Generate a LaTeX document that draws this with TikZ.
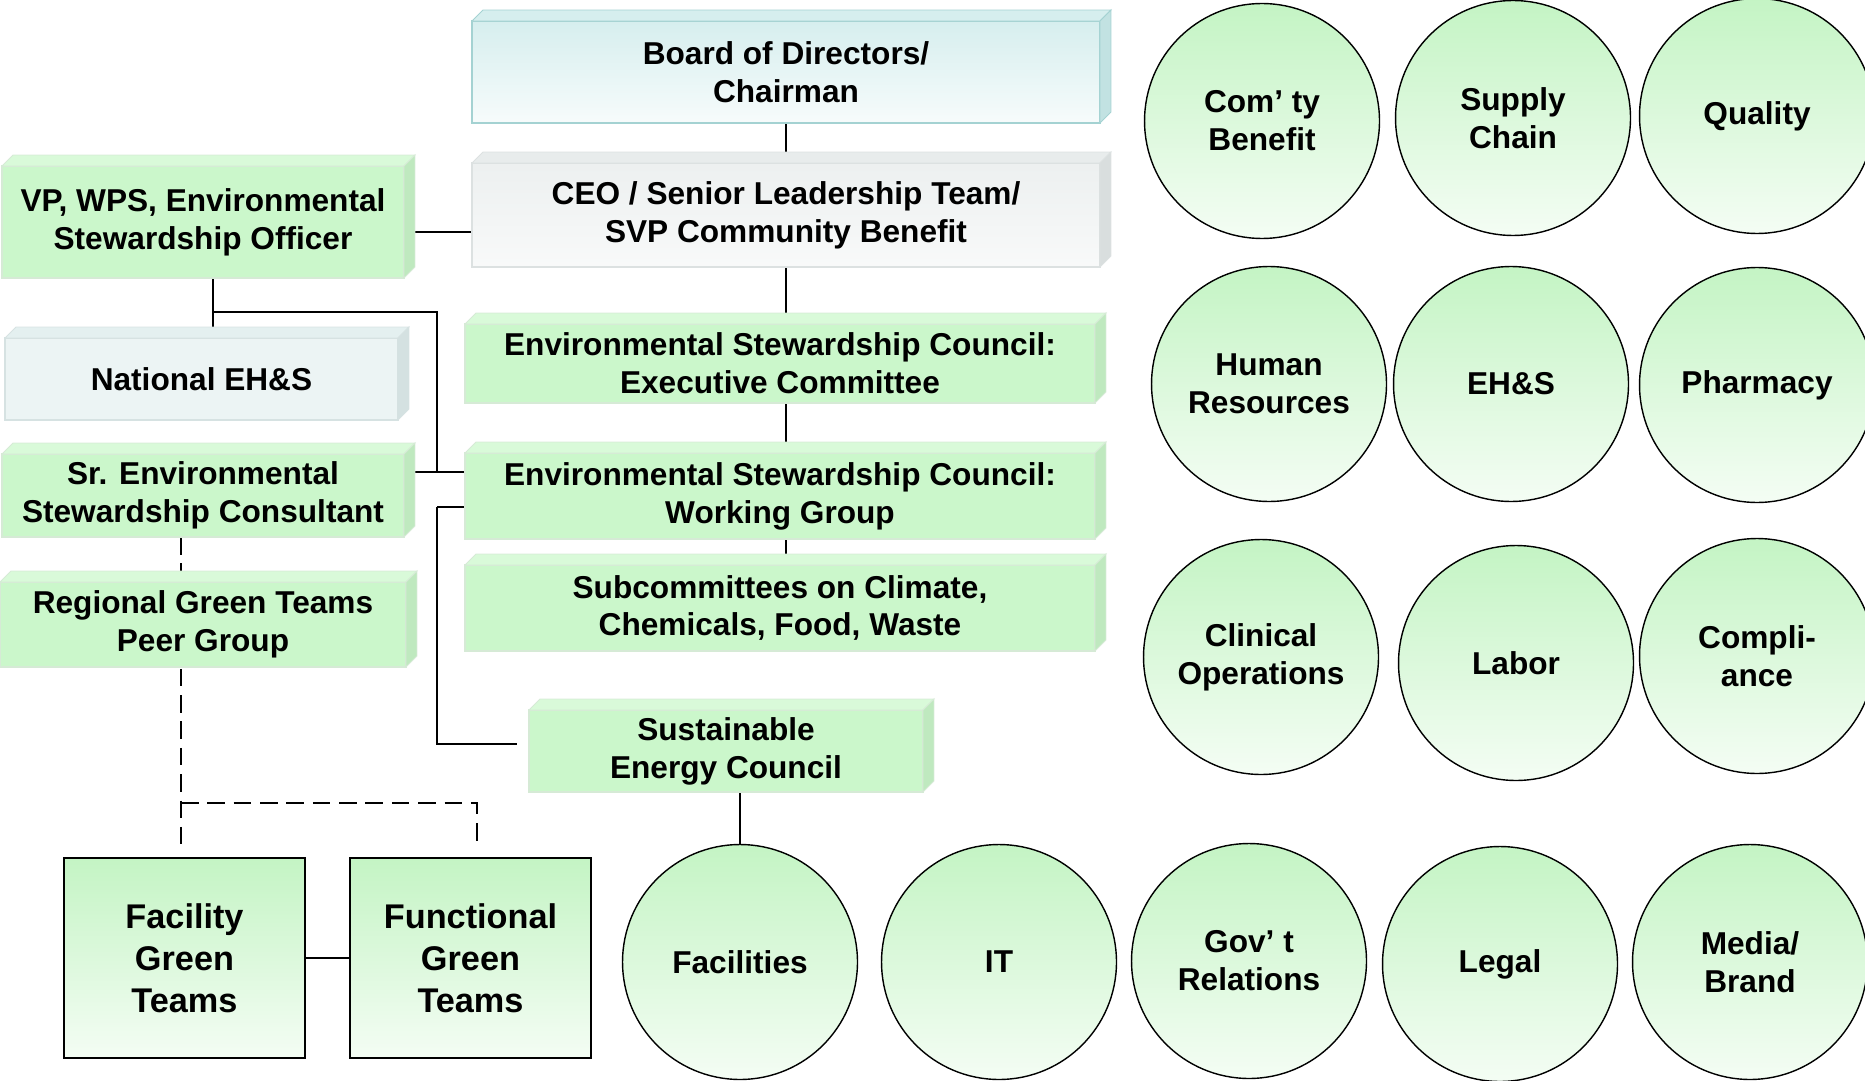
\documentclass[tikz,border=0pt]{standalone}
\usepackage{fontspec}
\setmainfont{Liberation Sans}
\usetikzlibrary{calc,backgrounds}

\definecolor{greenfill}{HTML}{CBF7CB}
\definecolor{greentop}{HTML}{D9FAD9}
\definecolor{greenside}{HTML}{BFE9BF}
\definecolor{greenedge}{HTML}{D6EAD6}
\definecolor{tealtop}{HTML}{D6EEEE}
\definecolor{tealside}{HTML}{C2E2E2}
\definecolor{tealedge}{HTML}{A4D2D2}
\definecolor{greytop}{HTML}{E8ECEC}
\definecolor{greyside}{HTML}{D9DEDE}
\definecolor{greyedge}{HTML}{DCE1E1}
\definecolor{paletop}{HTML}{E4F0F0}
\definecolor{paleside}{HTML}{D4E1E1}
\definecolor{paleedge}{HTML}{D6E2E2}
\definecolor{ovaltop}{HTML}{C4F4C4}
\definecolor{ovalbot}{HTML}{F4FDF4}

% top and right faces of a raised box
\newcommand{\bevel}[2]{%
  \filldraw[fill=#2top,draw=#2edge,line width=0.5pt] (#1.north west) -- ++(11,-11) -- ($(#1.north east)+(11,-11)$) -- (#1.north east) -- cycle;
  \filldraw[fill=#2side,draw=#2edge,line width=0.5pt] (#1.north east) -- ++(11,-11) -- ($(#1.south east)+(11,-11)$) -- (#1.south east) -- cycle;}

\begin{document}
\begin{tikzpicture}[x=0.02cm,y=-0.02cm,
    every node/.style={font=\bfseries\fontsize{18}{21.6}\selectfont,align=center,outer sep=0pt,inner sep=0pt},
    greenbox/.style={rectangle,fill=greenfill,draw=greenedge,line width=0.8pt},
    tealbox/.style={rectangle,top color=tealtop,bottom color=white!80!tealtop,draw=tealedge,line width=0.8pt},
    greybox/.style={rectangle,top color=greytop!80!white,bottom color=white!70!greytop,draw=greyedge,line width=0.8pt},
    palebox/.style={rectangle,fill=paletop!70!white,draw=paleedge,line width=0.8pt},
    unit/.style={circle,draw=black,line width=0.8pt,top color=ovaltop,bottom color=ovalbot,minimum size=4.7cm},
    team/.style={rectangle,draw=black,line width=1.3pt,top color=ovaltop,bottom color=ovalbot,
      font=\bfseries\fontsize{19.5}{24}\selectfont,minimum width=4.82cm,minimum height=4cm},
    conn/.style={line width=1.2pt},
    thinline/.style={line width=0.7pt},
    dashline/.style={line width=1.2pt,dash pattern=on 10pt off 5pt}]
  \useasboundingbox (0,0) rectangle (1865,1081);

  \node[tealbox,minimum width=12.56cm,minimum height=2.04cm] (board) at (786,72) {Board of Directors/\\Chairman};
  \node[greybox,minimum width=12.56cm,minimum height=2.08cm] (ceo) at (786,215) {CEO / Senior Leadership Team/\\SVP Community Benefit};
  \node[greenbox,minimum width=8.04cm,minimum height=2.24cm] (vp) at (203,222) {VP, WPS, Environmental\\Stewardship Officer};
  \node[palebox,minimum width=7.86cm,minimum height=1.64cm] (ehs) at (201.5,379) {National EH\&S};
  \node[greenbox,minimum width=12.6cm,minimum height=1.58cm] (exec) at (780,363.5) {Environmental Stewardship Council:\\Executive Committee};
  \node[greenbox,minimum width=8.04cm,minimum height=1.66cm] (sr) at (203,495.5) {Sr. Environmental\\Stewardship Consultant};
  \node[greenbox,minimum width=12.6cm,minimum height=1.72cm] (working) at (780,496) {Environmental Stewardship Council:\\Working Group};
  \node[greenbox,minimum width=12.6cm,minimum height=1.72cm] (sub) at (780,608) {Subcommittees on Climate,\\Chemicals, Food, Waste};
  \node[greenbox,minimum width=8.12cm,minimum height=1.7cm] (regional) at (203,624.5) {Regional Green Teams\\Peer Group};
  \node[greenbox,minimum width=7.88cm,minimum height=1.64cm] (sustain) at (726,751) {Sustainable\\Energy Council};
  \node[team] (facility) at (184.5,958) {Facility\\Green\\Teams};
  \node[team] (functional) at (470.5,958) {Functional\\Green\\Teams};

  \bevel{board}{teal}
  \bevel{ceo}{grey}
  \bevel{vp}{green}
  \bevel{ehs}{pale}
  \bevel{exec}{green}
  \bevel{sr}{green}
  \bevel{working}{green}
  \bevel{sub}{green}
  \bevel{regional}{green}
  \bevel{sustain}{green}

  \node[unit] (comty) at (1262,121) {Com’ ty\\Benefit};
  \node[unit] (supply) at (1513,118) {Supply\\Chain};
  \node[unit] (quality) at (1757,116) {Quality};
  \node[unit] (hr) at (1269,384) {Human\\Resources};
  \node[unit] (ehsunit) at (1511,384) {EH\&S};
  \node[unit] (pharmacy) at (1757,385) {Pharmacy};
  \node[unit] (clinical) at (1261,657) {Clinical\\Operations};
  \node[unit] (labor) at (1516,663) {Labor};
  \node[unit] (compliance) at (1757,656) {Compli-\\ance};
  \node[unit] (facilities) at (740,962) {Facilities};
  \node[unit] (it) at (999,962) {IT};
  \node[unit] (govt) at (1249,961) {Gov’ t\\Relations};
  \node[unit] (legal) at (1500,964) {Legal};
  \node[unit] (media) at (1750,962) {Media/\\Brand};

  \coordinate (c1) at (0,232);
  \coordinate (v1) at (213,312);
  \coordinate (j0) at (437,312);
  \coordinate (j1) at (437,472);
  \coordinate (j2) at (437,507);
  \coordinate (j3) at (437,744);
  \coordinate (j4) at (517,744);
  \coordinate (d1) at (181,845);
  \coordinate (dj) at (181,803);
  \coordinate (d2) at (477,845);

  \begin{scope}[on background layer]
    \draw[thinline] (board.south) -- (ceo.north);
    \draw[thinline] (ceo.south) -- (ceo.south |- sub.north);
    \draw[conn] (vp.east |- c1) -- (ceo.west |- c1);
    \draw[conn] (v1 |- vp.south) -- (v1 |- ehs.north);
    \draw[conn] (v1) -- (j0) -- (j1);
    \draw[conn] (sr.east |- j1) -- (working.west |- j1);
    \draw[conn] (j2) -- (working.west |- j2);
    \draw[conn] (j2) -- (j3) -- (j4);
    \draw[thinline] (facilities.north |- sustain.south) -- (facilities.north);
    \draw[conn] (facility.east) -- (functional.west);
    \draw[dashline] (d1 |- sr.south) -- (d1);
    \draw[dashline] (dj) -- (dj -| d2) -- (d2);
  \end{scope}
\end{tikzpicture}
\end{document}
